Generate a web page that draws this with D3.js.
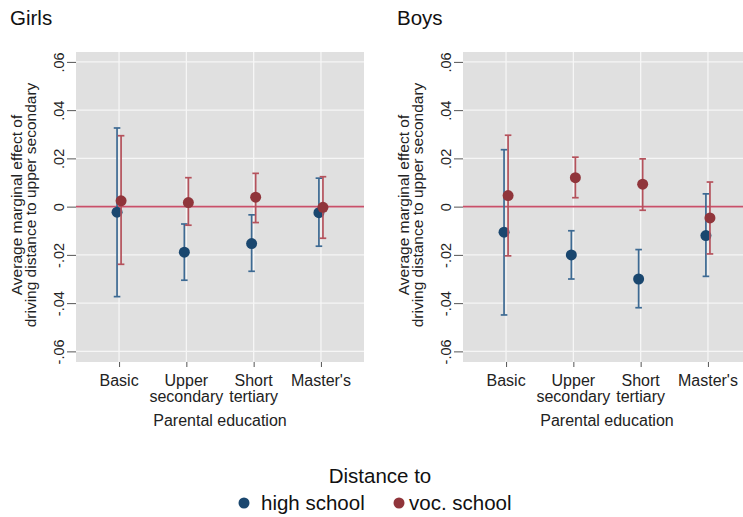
<!DOCTYPE html>
<html>
<head>
<meta charset="utf-8">
<script src="https://cdn.jsdelivr.net/npm/d3@7"></script>
<style>
  html, body { margin: 0; padding: 0; background: #ffffff; }
  svg { display: block; font-family: "Liberation Sans", Arial, sans-serif; }
</style>
</head>
<body>
<svg id="chart" width="743" height="517"></svg>
<script>
// Categories of parental education (labels may wrap onto two lines)
const categories = ["Basic", "Upper secondary", "Short tertiary", "Master's"];
const categoryLines = [["Basic"], ["Upper", "secondary"], ["Short", "tertiary"], ["Master's"]];

// Y axis ticks
const yTicks = [-0.06, -0.04, -0.02, 0, 0.02, 0.04, 0.06];
const yTickLabels = ["-.06", "-.04", "-.02", "0", ".02", ".04", ".06"];

// Girls: average marginal effects with 95% CI
const girlsHighEst = [-0.0023, -0.0189, -0.0153, -0.0025];
const girlsHighLo  = [-0.0373, -0.0305, -0.0268, -0.0164];
const girlsHighHi  = [ 0.0326, -0.0072, -0.0034,  0.0118];
const girlsVocEst  = [ 0.0024,  0.0017,  0.0039, -0.0003];
const girlsVocLo   = [-0.0239, -0.0077, -0.0066, -0.0131];
const girlsVocHi   = [ 0.0294,  0.0120,  0.0138,  0.0124];

// Boys: average marginal effects with 95% CI
const boysHighEst = [-0.0106, -0.0200, -0.0300, -0.0120];
const boysHighLo  = [-0.0449, -0.0300, -0.0419, -0.0289];
const boysHighHi  = [ 0.0236, -0.0100, -0.0178,  0.0053];
const boysVocEst  = [ 0.0046,  0.0120,  0.0093, -0.0047];
const boysVocLo   = [-0.0204,  0.0037, -0.0015, -0.0196];
const boysVocHi   = [ 0.0296,  0.0205,  0.0198,  0.0102];

const seriesNames = ["high school", "voc. school"];

const colors = {
  high: { dot: "#1a476f", bar: "#3d6a93" },
  voc:  { dot: "#90353b", bar: "#b5525c" }
};

const svg = d3.select("#chart");

const panels = [
  { title: "Girls", left: 76,  titleX: 10,
    high: { est: girlsHighEst, lo: girlsHighLo, hi: girlsHighHi },
    voc:  { est: girlsVocEst,  lo: girlsVocLo,  hi: girlsVocHi } },
  { title: "Boys",  left: 463, titleX: 397,
    high: { est: boysHighEst, lo: boysHighLo, hi: boysHighHi },
    voc:  { est: boysVocEst,  lo: boysVocLo,  hi: boysVocHi } }
];

const plotTop = 52, plotBottom = 362, plotWidth = 288;
const y = d3.scaleLinear().domain([-0.0644, 0.0641]).range([plotBottom, plotTop]);

panels.forEach(p => {
  const g = svg.append("g");
  const x = d3.scaleLinear().domain([0.36, 4.64]).range([p.left, p.left + plotWidth]);

  // panel title
  g.append("text").attr("x", p.titleX).attr("y", 25)
    .attr("font-size", 20.5).attr("fill", "#111").text(p.title);

  // plot region
  g.append("rect").attr("x", p.left).attr("y", plotTop)
    .attr("width", plotWidth).attr("height", plotBottom - plotTop)
    .attr("fill", "#e0e0e0");

  // grid lines
  g.append("g").selectAll("line").data(yTicks).join("line")
    .attr("x1", p.left).attr("x2", p.left + plotWidth)
    .attr("y1", d => y(d)).attr("y2", d => y(d))
    .attr("stroke", "#f6f6f6").attr("stroke-width", 1.3);
  g.append("g").selectAll("line").data(categories).join("line")
    .attr("x1", (d, i) => x(i + 1)).attr("x2", (d, i) => x(i + 1))
    .attr("y1", plotTop).attr("y2", plotBottom)
    .attr("stroke", "#f6f6f6").attr("stroke-width", 1.3);

  // y axis
  const yAxis = d3.axisLeft(y).tickValues(yTicks)
    .tickFormat((d, i) => yTickLabels[i]).tickSize(9).tickPadding(3);
  const ya = g.append("g").attr("transform", `translate(${p.left},0)`).call(yAxis);
  ya.select(".domain").remove();
  ya.selectAll(".tick line").attr("stroke", "#555");
  ya.selectAll(".tick text")
    .attr("font-size", 14.5).attr("fill", "#222")
    .attr("font-family", "Liberation Sans, Arial, sans-serif")
    .attr("x", null).attr("dy", null)
    .attr("text-anchor", "middle")
    .attr("transform", "translate(-12,0) rotate(-90)");

  // x axis
  const xAxis = d3.axisBottom(x).tickValues([1, 2, 3, 4])
    .tickFormat("").tickSize(5);
  const xa = g.append("g").attr("transform", `translate(0,${plotBottom})`).call(xAxis);
  xa.select(".domain").remove();
  xa.selectAll(".tick line").attr("stroke", "#555");
  categoryLines.forEach((lines, i) => {
    lines.forEach((ln, j) => {
      g.append("text").attr("x", x(i + 1)).attr("y", 385.5 + j * 16.5)
        .attr("text-anchor", "middle").attr("font-size", 16).attr("fill", "#222")
        .text(ln);
    });
  });
  g.append("text").attr("x", x(2.5)).attr("y", 425.5)
    .attr("text-anchor", "middle").attr("font-size", 16).attr("fill", "#222")
    .text("Parental education");

  // y axis title
  const cy = 205;
  [["Average marginal effect of", -54], ["driving distance to upper secondary", -40.5]]
    .forEach(([t, dx]) => {
      g.append("text")
        .attr("transform", `translate(${p.left + dx},${cy}) rotate(-90)`)
        .attr("text-anchor", "middle").attr("font-size", 15.5).attr("fill", "#222")
        .text(t);
    });

  // reference line at zero
  g.append("line").attr("x1", p.left).attr("x2", p.left + plotWidth)
    .attr("y1", y(0)).attr("y2", y(0))
    .attr("stroke", "#c9506a").attr("stroke-width", 1.6);

  // estimates with confidence intervals
  [["high", -0.03], ["voc", 0.03]].forEach(([key, off]) => {
    const s = p[key], c = colors[key];
    const sg = g.append("g");
    const idx = d3.range(categories.length);
    const cx = i => x(i + 1 + off);
    sg.selectAll("line.ci").data(idx).join("line").attr("class", "ci")
      .attr("x1", cx).attr("x2", cx)
      .attr("y1", i => y(s.lo[i])).attr("y2", i => y(s.hi[i]))
      .attr("stroke", c.bar).attr("stroke-width", 1.7);
    ["lo", "hi"].forEach(k => {
      sg.selectAll("line.cap" + k).data(idx).join("line").attr("class", "cap" + k)
        .attr("x1", i => cx(i) - 3.3).attr("x2", i => cx(i) + 3.3)
        .attr("y1", i => y(s[k][i])).attr("y2", i => y(s[k][i]))
        .attr("stroke", c.bar).attr("stroke-width", 1.7);
    });
    sg.selectAll("circle").data(idx).join("circle")
      .attr("cx", cx).attr("cy", i => y(s.est[i])).attr("r", 5.5)
      .attr("fill", c.dot);
  });
});

// legend
svg.append("text").attr("x", 380).attr("y", 482.5)
  .attr("text-anchor", "middle").attr("font-size", 20.5).attr("fill", "#111")
  .text("Distance to");
const legendItems = [
  { name: seriesNames[0], color: colors.high.dot, dotX: 244, textX: 261 },
  { name: seriesNames[1], color: colors.voc.dot,  dotX: 399, textX: 409 }
];
legendItems.forEach(it => {
  svg.append("circle").attr("cx", it.dotX).attr("cy", 503).attr("r", 5.5)
    .attr("fill", it.color);
  svg.append("text").attr("x", it.textX).attr("y", 509.5)
    .attr("font-size", 20.5).attr("fill", "#111").text(it.name);
});
</script>
</body>
</html>
